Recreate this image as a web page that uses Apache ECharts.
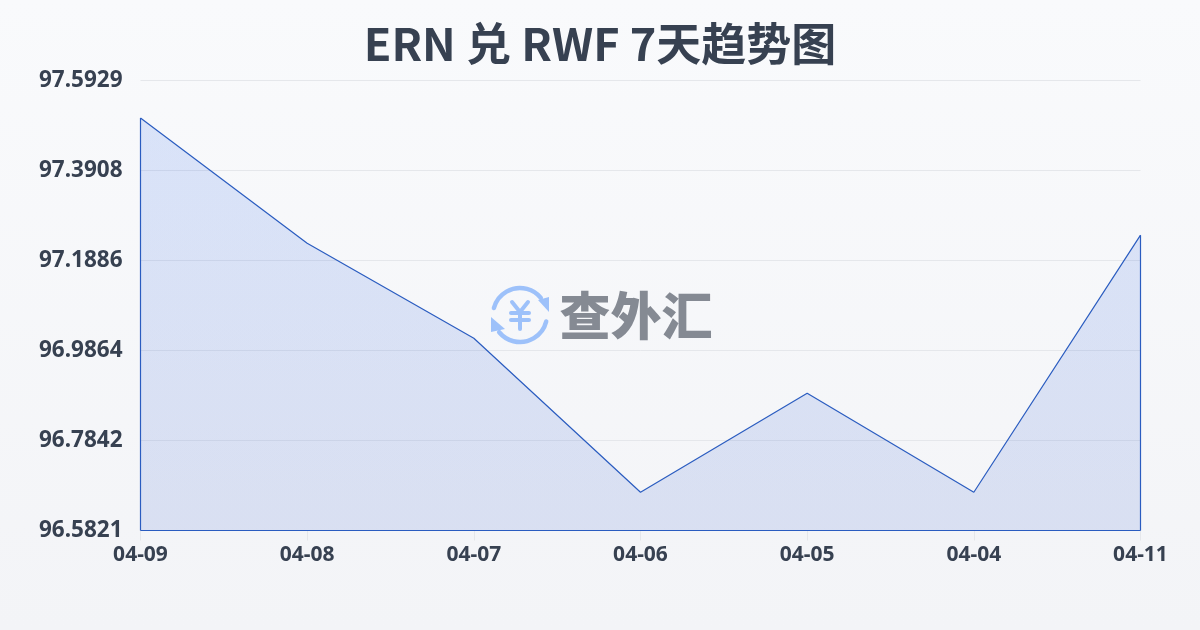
<!DOCTYPE html>
<html><head><meta charset="utf-8">
<style>html,body{margin:0;padding:0;width:1200px;height:630px;overflow:hidden}#c{width:1200px;height:630px}</style>
<script src="https://cdn.jsdelivr.net/npm/echarts@6/dist/echarts.min.js"></script>
</head><body><div id="c"></div>
<script>
const titleText = 'ERN 兑 RWF 7天趋势图';
const watermarkText = '查外汇';
const categories = ['04-09','04-08','04-07','04-06','04-05','04-04','04-11'];
const rates = [97.5085,97.2275,97.0140,96.6680,96.8905,96.6680,97.2455];
const yTicks = [96.5821,96.7842,96.9864,97.1886,97.3908,97.5929];
const yMin = yTicks[0], yMax = yTicks[yTicks.length-1];
const lastIdx = categories.length-1;
const font = '"Noto Sans","Noto Sans CJK SC",sans-serif';
const chart = echarts.init(document.getElementById('c'),null,{renderer:'canvas'});
const cx = 520, cy = 315, blue = '#9dc1fa';
const stroke = {stroke:blue,lineWidth:4.5,fill:null,lineCap:'round'};
const yen = {stroke:blue,lineWidth:4,fill:null,lineCap:'round',lineJoin:'round'};
chart.setOption({
  animation:false,
  backgroundColor:new echarts.graphic.LinearGradient(0,0,0,1,[{offset:0,color:'#f9fafc'},{offset:1,color:'#f3f4f7'}]),
  title:{text:titleText,left:'center',top:16,textStyle:{fontFamily:'"Noto Sans CJK SC","Noto Sans",sans-serif',fontSize:45,fontWeight:'bold',color:'#374151'}},
  grid:{left:140.5,right:59.5,top:80.5,bottom:99.5,containLabel:false},
  xAxis:{type:'category',boundaryGap:false,data:categories,
    axisLine:{show:false},
    axisTick:{show:true,length:10,lineStyle:{color:'#e5e7eb',width:1}},
    axisLabel:{margin:14,fontFamily:font,fontSize:21,fontWeight:'bold',color:'#374151',showMinLabel:true,showMaxLabel:true,interval:0},
    splitLine:{show:false}},
  yAxis:{type:'value',min:yMin,max:yMax,
    axisLine:{show:false},
    axisTick:{show:false,customValues:yTicks},
    axisLabel:{customValues:yTicks,margin:18,fontFamily:font,fontSize:22.5,fontWeight:'bold',color:'#374151',
      formatter:v=>v.toFixed(4),padding:[0,0,6,0]},
    splitLine:{show:true,lineStyle:{color:'#e5e7eb',width:1}}},
  series:[{type:'line',data:rates,symbol:'none',smooth:false,z:3,
    lineStyle:{color:'#2a5cc0',width:1.2},
    areaStyle:{opacity:1,origin:'start',color:new echarts.graphic.LinearGradient(0,0,0,1,[{offset:0,color:'rgba(37,99,235,0.145)'},{offset:1,color:'rgba(37,80,200,0.13)'}])},
    markLine:{silent:true,symbol:'none',animation:false,label:{show:false},
      lineStyle:{color:'#2a5cc0',width:1.2,type:'solid'},
      data:[
        [{xAxis:0,yAxis:rates[0]},{xAxis:0,yAxis:yMin}],
        [{xAxis:0,yAxis:yMin},{xAxis:lastIdx,yAxis:yMin}],
        [{xAxis:lastIdx,yAxis:yMin},{xAxis:lastIdx,yAxis:rates[lastIdx]}]
      ]}
  }],
  graphic:{elements:[
    {type:'arc',z:10,silent:true,shape:{cx,cy,r:27,startAngle:-2.88,endAngle:-0.69},style:stroke},
    {type:'arc',z:10,silent:true,shape:{cx,cy,r:27,startAngle:0.245,endAngle:2.45},style:stroke},
    {type:'polygon',z:10,silent:true,shape:{points:[[538,300],[549,297],[549,312]]},style:{fill:blue}},
    {type:'polygon',z:10,silent:true,shape:{points:[[491,317],[505,329],[491,332]]},style:{fill:blue}},
    {type:'polyline',z:10,silent:true,shape:{points:[[512,302],[520,312],[528,302]]},style:yen},
    {type:'polyline',z:10,silent:true,shape:{points:[[520,312],[520,329]]},style:yen},
    {type:'polyline',z:10,silent:true,shape:{points:[[511,313],[529,313]]},style:yen},
    {type:'polyline',z:10,silent:true,shape:{points:[[511,320],[529,320]]},style:yen},
    {type:'text',z:10,silent:true,style:{x:636,y:316,text:watermarkText,align:'center',verticalAlign:'middle',fontFamily:'"Noto Sans CJK SC",sans-serif',fontSize:51,fontWeight:'900',fill:'#858a93'}}
  ]}
});
</script></body></html>
